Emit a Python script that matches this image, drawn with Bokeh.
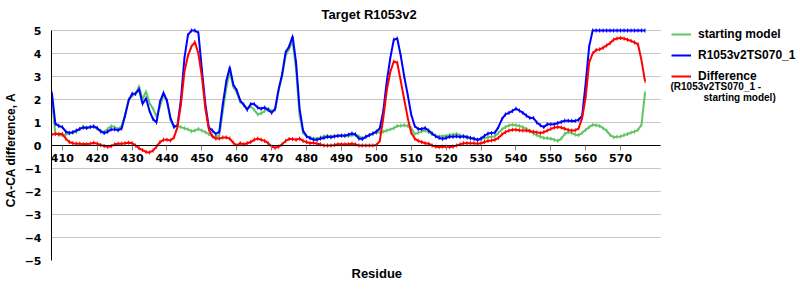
import math
from bokeh.plotting import figure
from bokeh.models import Legend, LegendItem, Label, Title, Range1d, BoxAnnotation
from bokeh.embed import file_html
from bokeh.resources import INLINE

residues = list(range(407, 578))

starting_model = [
    1.95, 0.55, 0.45,
    0.45, 0.48, 0.52, 0.55, 0.6, 0.72, 0.82, 0.78, 0.8, 0.82,
    0.72, 0.6, 0.6, 0.72, 0.85, 0.8, 0.72, 0.85, 1.35, 2.0,
    2.15, 2.25, 2.58, 2.0, 2.35, 1.85, 1.6, 1.25, 1.7, 2.2,
    1.9, 1.1, 0.85, 0.85, 0.8, 0.75, 0.7, 0.62, 0.65, 0.72,
    0.65, 0.58, 0.5, 0.42, 0.35, 0.45, 1.5, 2.5, 3.2, 2.55,
    2.3, 1.9, 1.75, 1.6, 1.7, 1.55, 1.35, 1.4, 1.5, 1.6,
    1.5, 1.55, 2.4, 3.0, 3.9, 4.2, 4.55, 3.3, 1.3, 0.55,
    0.4, 0.35, 0.3, 0.3, 0.35, 0.4, 0.42, 0.4, 0.42, 0.42,
    0.42, 0.44, 0.42, 0.45, 0.48, 0.4, 0.32, 0.38, 0.45, 0.52,
    0.55, 0.58, 0.6, 0.65, 0.7, 0.75, 0.85, 0.86, 0.88, 0.85,
    0.75, 0.5, 0.55, 0.62, 0.65, 0.58, 0.5, 0.43, 0.4, 0.4,
    0.42, 0.46, 0.48, 0.5, 0.45, 0.38, 0.33, 0.3, 0.28, 0.26,
    0.28, 0.32, 0.36, 0.38, 0.4, 0.55, 0.7, 0.8, 0.87, 0.9,
    0.88, 0.85, 0.8, 0.72, 0.65, 0.52, 0.45, 0.38, 0.33, 0.32,
    0.29, 0.25, 0.2, 0.3, 0.5, 0.58, 0.55, 0.47, 0.45, 0.55,
    0.68, 0.8, 0.9, 0.88, 0.85, 0.75, 0.65, 0.45, 0.36, 0.38,
    0.39, 0.45, 0.5, 0.56, 0.6, 0.68, 0.9, 2.3,
]

model_070 = [
    2.3, 0.95, 0.85,
    0.8, 0.6, 0.55, 0.58, 0.65, 0.72, 0.78, 0.76, 0.8, 0.83,
    0.76, 0.62, 0.54, 0.6, 0.7, 0.7, 0.66, 0.74, 1.3, 1.95,
    2.25, 2.25, 2.45, 1.8, 2.05, 1.5, 1.15, 1.0, 1.9, 2.3,
    1.95, 1.2, 0.8, 0.88, 2.0, 3.8, 4.8, 5.0, 5.0, 4.9,
    3.3, 1.8, 0.78, 0.65, 0.5, 0.6, 1.8, 2.8, 3.4, 2.65,
    2.4, 1.95, 1.78, 1.55, 1.8, 1.8, 1.65, 1.6, 1.65, 1.55,
    1.42, 1.6, 2.45, 3.1, 4.05, 4.3, 4.75, 3.6, 1.6, 0.65,
    0.4, 0.32, 0.25, 0.25, 0.3, 0.33, 0.38, 0.36, 0.39, 0.42,
    0.43, 0.42, 0.47, 0.52, 0.48, 0.3, 0.28, 0.38, 0.45, 0.52,
    0.6, 0.75, 1.5, 2.8, 3.8, 4.6, 4.65, 3.9, 3.0, 2.2,
    1.35, 0.85, 0.72, 0.72, 0.76, 0.65, 0.52, 0.4, 0.33, 0.29,
    0.33, 0.38, 0.38, 0.4, 0.37, 0.4, 0.37, 0.33, 0.3, 0.24,
    0.3, 0.42, 0.52, 0.54, 0.56, 0.8, 1.15, 1.35, 1.42, 1.5,
    1.6, 1.52, 1.42, 1.3, 1.2, 1.2, 1.0, 0.88, 0.8, 0.92,
    0.92, 0.92, 0.98, 1.02, 1.08, 1.08, 1.07, 1.07, 1.12, 1.3,
    2.7, 4.3, 5.0, 5.0, 5.0, 5.0, 5.0, 5.0, 5.0, 5.0,
    5.0, 5.0, 5.0, 5.0, 5.0, 5.0, 5.0, 5.0,
]

difference = [
    0.48, 0.5, 0.5,
    0.5, 0.3, 0.15, 0.1, 0.08, 0.08, 0.06, 0.06, 0.08, 0.12,
    0.08, 0.02, -0.02, -0.06, -0.03, 0.05, 0.08, 0.08, 0.1, 0.12,
    0.1, 0.0, -0.12, -0.2, -0.28, -0.3, -0.22, -0.05, 0.15, 0.25,
    0.25, 0.22, 0.35, 0.8, 1.8, 3.2, 3.9, 4.3, 4.5, 4.0,
    3.0, 1.6, 0.7, 0.4, 0.3, 0.3, 0.35, 0.35, 0.3, 0.12,
    0.0, 0.1, 0.05, 0.1, 0.15, 0.25, 0.3, 0.25, 0.2, 0.1,
    -0.05, -0.1, -0.05, 0.05, 0.2, 0.28, 0.28, 0.25, 0.3, 0.2,
    0.15, 0.1, 0.12, 0.08, 0.05, 0.0, 0.0, 0.0, 0.02, 0.05,
    0.05, 0.05, 0.05, 0.08, 0.05, 0.0, 0.0, 0.0, 0.0, 0.0,
    0.02, 0.2, 1.2, 2.4, 3.2, 3.65, 3.6, 2.8, 2.0, 1.2,
    0.55, 0.3, 0.2, 0.15, 0.1, 0.08, 0.0, -0.05, -0.07, -0.05,
    -0.05, -0.07, -0.05, 0.0, 0.05, 0.1, 0.1, 0.1, 0.1, 0.08,
    0.1, 0.15, 0.2, 0.22, 0.25, 0.33, 0.48, 0.58, 0.65, 0.68,
    0.68, 0.66, 0.65, 0.65, 0.62, 0.6, 0.57, 0.54, 0.58, 0.65,
    0.72, 0.78, 0.8, 0.78, 0.73, 0.68, 0.65, 0.66, 0.75, 1.2,
    2.1, 3.6, 4.0, 4.15, 4.18, 4.25, 4.35, 4.45, 4.6, 4.65,
    4.67, 4.65, 4.6, 4.55, 4.48, 4.4, 3.7, 2.8,
]

x_ticks = [410, 420, 430, 440, 450, 460, 470, 480, 490, 500, 510, 520, 530, 540, 550, 560, 570]
y_ticks = [-5, -4, -3, -2, -1, 0, 1, 2, 3, 4, 5]

series_names = ["starting model", "R1053v2TS070_1", "Difference"]
series_colors = ["#62c462", "#0000ff", "#ff0000"]
legend_note = ["(R1053v2TS070_1 -", "starting model)"]

assert len(residues) == len(starting_model) == len(model_070) == len(difference)

BOLD_SANS = "Liberation Sans"
TICK_FONT = "DejaVu Sans"

# visible data area spans residues 406.9 .. 581.5 and values -5 .. 5; the
# frame continues to the right edge and a little above, so that the legend
# (drawn inside the frame) is not clipped
X_START, X_END = 406.9, 581.5
PX_PER_RES = 610 / (X_END - X_START)
X_FRAME_END = X_START + 750 / PX_PER_RES
Y_MIN, Y_MAX = -5, 5
PX_PER_UNIT = 23
EXTRA_TOP_PX = 8
Y_FRAME_TOP = Y_MAX + EXTRA_TOP_PX / PX_PER_UNIT

p = figure(width=800, height=300, output_backend="svg", toolbar_location=None,
           x_range=Range1d(X_START, X_FRAME_END), y_range=Range1d(Y_MIN, Y_FRAME_TOP),
           min_border_left=50, min_border_right=0, min_border_top=30 - EXTRA_TOP_PX,
           min_border_bottom=40)

p.outline_line_color = None
p.background_fill_color = "white"
p.border_fill_color = "white"

p.title.text = "Target R1053v2"
p.title.align = "left"
p.title.offset = 270
p.title.standoff = 2
p.title.text_font = BOLD_SANS
p.title.text_font_style = "bold"
p.title.text_font_size = "13px"
p.title.text_color = "black"

# grid
p.xgrid.visible = False
p.ygrid.ticker = y_ticks
p.ygrid.grid_line_color = "#c4c4c4"
p.ygrid.grid_line_width = 1

# white cover to stop grid lines at the right end of the plot area
p.add_layout(BoxAnnotation(left=X_END, fill_color="white", fill_alpha=1.0,
                           line_color=None, level="underlay"))

# y axis
p.yaxis.bounds = (Y_MIN, Y_MAX)
p.yaxis.ticker = y_ticks
p.yaxis.major_label_overrides = {v: ("\u2212" + str(-v)) if v < 0 else str(v) for v in y_ticks}
p.yaxis.major_tick_out = 0
p.yaxis.major_tick_in = 0
p.yaxis.minor_tick_line_color = None
p.yaxis.axis_line_color = "black"
p.yaxis.major_label_standoff = 10
p.yaxis.major_label_text_font = TICK_FONT
p.yaxis.major_label_text_font_style = "bold"
p.yaxis.major_label_text_font_size = "11px"
p.yaxis.major_label_text_color = "black"
p.yaxis.axis_label = "CA-CA difference, A" + "\u00a0" * 5
p.yaxis.axis_label_text_font = BOLD_SANS
p.yaxis.axis_label_text_font_style = "bold"
p.yaxis.axis_label_text_font_size = "12px"
p.yaxis.axis_label_text_color = "black"
p.yaxis.axis_label_standoff = 4

# x axis at y = 0
p.xaxis.fixed_location = 0
p.xaxis.bounds = (X_START, X_END)
p.xaxis.ticker = x_ticks
p.xaxis.major_tick_out = 5
p.xaxis.major_tick_in = 0
p.xaxis.minor_tick_line_color = None
p.xaxis.axis_line_color = "black"
p.xaxis.major_tick_line_color = "#808080"
p.xaxis.major_label_standoff = 3
p.xaxis.major_label_text_font = TICK_FONT
p.xaxis.major_label_text_font_style = "bold"
p.xaxis.major_label_text_font_size = "11px"
p.xaxis.major_label_text_color = "black"

p.add_layout(Title(text="Residue", align="left", offset=300, standoff=6,
                   text_font=BOLD_SANS, text_font_style="bold",
                   text_font_size="13px", text_color="black"),
             "below")

renderers = []
for vals, color in zip([starting_model, model_070, difference], series_colors):
    r = p.line(residues, vals, line_color=color, line_width=2)
    p.scatter(residues, vals, marker="dash", angle=math.pi / 2, size=4,
              line_color=color, line_width=1)
    renderers.append(r)

legend = Legend(items=[LegendItem(label=n, renderers=[r]) for n, r in zip(series_names, renderers)],
                location=(620, 174), orientation="vertical",
                glyph_width=20, glyph_height=20, label_height=20, spacing=1,
                padding=0, margin=0, label_standoff=7,
                label_text_font=BOLD_SANS, label_text_font_style="bold",
                label_text_font_size="12px", label_text_color="black",
                border_line_color=None, background_fill_alpha=0)
p.add_layout(legend, "center")

p.add_layout(Label(x=619, y=174, x_units="screen", y_units="screen",
                   text=legend_note[0], text_baseline="middle", text_color="black",
                   text_font=BOLD_SANS, text_font_style="bold", text_font_size="10px"))
p.add_layout(Label(x=652, y=163, x_units="screen", y_units="screen",
                   text=legend_note[1], text_baseline="middle", text_color="black",
                   text_font=BOLD_SANS, text_font_style="bold", text_font_size="10px"))

open("out.html", "w").write(file_html(p, INLINE))
